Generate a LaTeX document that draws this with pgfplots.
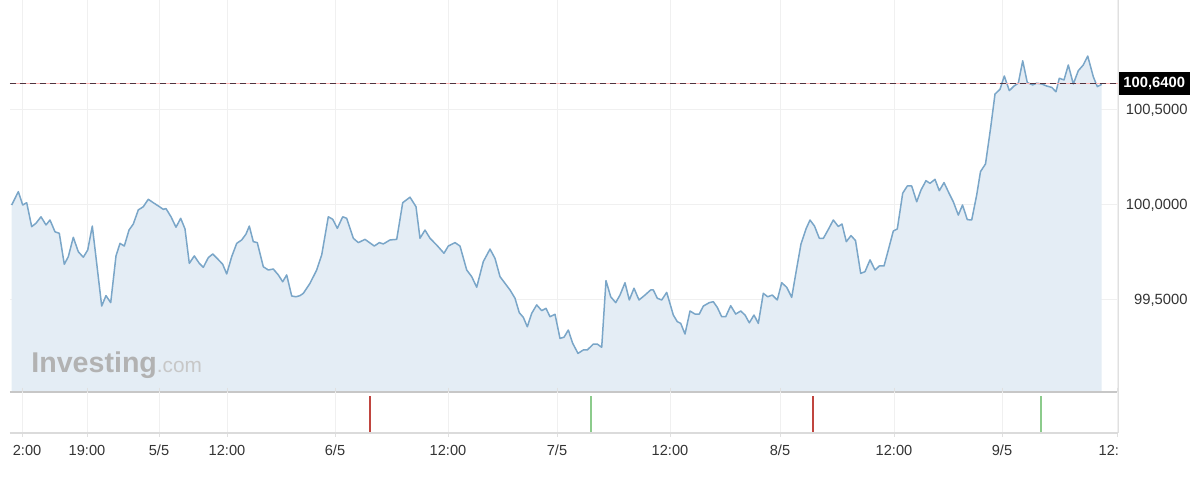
\documentclass[border=0pt]{standalone}
\usepackage{fontspec}
\setmainfont{Liberation Sans}
\usepackage{pgfplots}
\usepackage{pgfplotstable}
\pgfplotsset{compat=1.18}
\definecolor{linec}{HTML}{7AA6C8}
\definecolor{fillc}{HTML}{E4EDF5}
\definecolor{gridc}{HTML}{F0F0F0}
\definecolor{redm}{HTML}{C0453F}
\definecolor{greenm}{HTML}{8CCB8C}
\definecolor{dashc}{HTML}{4E3440}
\definecolor{labc}{HTML}{333333}

\pgfplotstableread{
x y
11.7 100.000
18.3 100.070
22.7 100.000
26.7 100.012
31.7 99.886
36 99.904
41 99.938
46 99.895
50 99.921
55 99.859
59.3 99.851
64.3 99.688
68.3 99.728
73.3 99.830
78.3 99.754
83.3 99.725
87.7 99.763
92.3 99.889
96.7 99.693
101.7 99.468
106 99.523
110.7 99.486
116 99.732
120 99.798
124.3 99.784
129 99.868
133.3 99.900
138.3 99.974
143.3 99.991
148.3 100.030
153.3 100.012
158.3 99.995
163.3 99.977
166 99.981
171 99.938
176 99.883
180.7 99.930
185 99.874
189.3 99.693
194.3 99.732
199.3 99.693
203.3 99.672
208.3 99.723
212.7 99.742
217.7 99.716
222.7 99.688
226.7 99.637
231.7 99.728
236.7 99.798
241.7 99.816
246 99.847
249.3 99.889
253.3 99.807
257.3 99.802
263.3 99.675
268.3 99.658
273.3 99.663
278.3 99.632
282.7 99.596
286.7 99.632
291.7 99.521
296 99.517
300 99.523
303.3 99.535
310 99.588
316.7 99.658
321.7 99.737
328.3 99.938
332.7 99.925
337.3 99.877
342.7 99.938
346.7 99.930
353.3 99.825
358.3 99.802
365 99.819
374.3 99.784
379.3 99.802
383.3 99.795
390 99.816
396.7 99.819
402.7 100.012
410 100.041
416 99.991
420 99.825
425 99.868
430 99.825
436.7 99.789
444 99.746
448.3 99.784
455 99.802
460 99.784
466.7 99.658
471.7 99.623
476.7 99.567
483.3 99.702
490 99.768
495 99.719
500 99.623
510 99.553
515 99.509
519.3 99.433
523.3 99.409
527.3 99.359
531.7 99.430
536.7 99.474
541.7 99.444
546 99.456
550 99.412
555 99.425
560 99.298
564 99.304
568.3 99.342
572.7 99.272
578 99.219
583.3 99.237
587.3 99.237
593.3 99.268
597.3 99.268
601.7 99.251
606 99.602
610.7 99.517
615.7 99.486
620 99.526
625 99.591
629.3 99.500
634 99.562
639 99.500
645 99.526
650.7 99.553
653.3 99.553
657.3 99.509
661.7 99.500
666.7 99.540
673.3 99.421
677.3 99.386
680.7 99.377
685 99.321
690 99.442
695 99.426
699.3 99.426
703.3 99.468
709.3 99.486
713.3 99.491
717.3 99.461
721.7 99.412
725.7 99.412
730.7 99.470
735.7 99.426
740.7 99.442
745 99.421
749.3 99.380
754 99.421
758.3 99.377
763.3 99.535
767.7 99.517
772.3 99.526
777.3 99.500
781.7 99.591
786.7 99.567
791.7 99.514
796.7 99.667
801 99.795
806 99.874
810 99.921
814.5 99.889
819.3 99.825
823.3 99.824
828.3 99.871
833.3 99.921
838.3 99.887
842 99.900
846.3 99.807
851 99.839
855.5 99.813
860.7 99.640
865 99.649
870 99.711
875 99.658
879.3 99.679
884 99.679
888.3 99.763
893.3 99.863
897.3 99.874
902.7 100.062
907.3 100.100
911.7 100.100
916.7 100.017
921 100.079
926 100.128
930 100.114
935 100.135
939.3 100.075
944 100.118
948.3 100.070
953.3 100.017
958.3 99.947
962.5 100.000
967.3 99.923
971.7 99.921
976.7 100.053
980.5 100.176
985.5 100.216
990.7 100.409
995 100.584
1000 100.609
1004.3 100.679
1009.3 100.602
1014 100.626
1018.3 100.641
1022.7 100.759
1027.3 100.644
1032.7 100.632
1036.7 100.641
1041.7 100.637
1046.7 100.626
1051.7 100.619
1056 100.596
1059.3 100.667
1064 100.658
1068.3 100.737
1073.3 100.637
1078.3 100.707
1083.3 100.737
1087.7 100.784
1093.3 100.675
1097.3 100.623
1101.7 100.635
}\pricedata

\begin{document}
\begin{tikzpicture}
\useasboundingbox (0,0) rectangle (600pt,245.5pt);
% main panel
\begin{axis}[
  at={(5pt,49.5pt)}, anchor=south west,
  scale only axis, width=554pt, height=196pt,
  xmin=10, xmax=1118, ymin=99.0158, ymax=101.0789,
  axis line style={draw=none},
  xtick={23,87,159,227,335,448,557,670,780,894,1002,1117},
  xticklabels={},
  ytick={99.5,100,100.5},
  yticklabels={{99,5000},{100,0000},{100,5000}},
  yticklabel pos=right,
  yticklabel style={anchor=east, inner sep=0pt, xshift=35pt, text=labc,
    font=\fontsize{7.4}{9}\selectfont},
  major tick length=0pt,
  tick style={draw=none},
  grid=major, major grid style={draw=gridc, line width=0.5pt},
  clip mode=individual,
]
\addplot[draw=none, fill=fillc] table[x=x,y=y]{\pricedata} \closedcycle;
\addplot[linec, line width=0.75pt, line join=round] table[x=x,y=y]{\pricedata};
\node[anchor=base west, inner sep=0pt, text=black!30, font=\bfseries\fontsize{14.3}{16}\selectfont]
  at (axis cs:31,99.117) {Investing\textcolor{black!22}{\mdseries\fontsize{10.4}{12}\selectfont.com}};
\addplot[red!30, line width=0.6pt] coordinates {(10,100.64) (1118,100.64)};
\addplot[dashc, line width=0.65pt, dash pattern=on 3pt off 2pt] coordinates {(10,100.64) (1118,100.64)};
\draw[black!22, line width=0.8pt] (rel axis cs:0,0) -- (rel axis cs:1,0);
\draw[black!12, line width=0.5pt] (rel axis cs:1,0) -- (rel axis cs:1,1);
\node[fill=black, text=white, anchor=west, inner sep=0pt, minimum width=35.5pt, minimum height=11.5pt,
  font=\bfseries\fontsize{7.4}{8}\selectfont] at (axis cs:1118.4,100.64) {100,6400};
\end{axis}
% lower panel
\begin{axis}[
  at={(5pt,29pt)}, anchor=south west,
  scale only axis, width=554pt, height=20.5pt,
  xmin=10, xmax=1118, ymin=-1, ymax=40,
  axis line style={draw=none},
  xtick={23,87,159,227,335,448,557,670,780,894,1002,1117},
  xticklabels={{\phantom{2}2:00},19:00,5/5,12:00,6/5,12:00,7/5,12:00,8/5,12:00,9/5,{12:\phantom{00}}},
  xticklabel style={inner sep=0pt, yshift=-4pt, text=labc, font=\fontsize{7.3}{9}\selectfont},
  ytick=\empty,
  tick align=outside, major tick length=2pt,
  x tick style={draw=black!12, line width=0.5pt},
  xmajorgrids, major grid style={draw=gridc, line width=0.5pt},
  clip mode=individual,
]
\addplot[ycomb, no marks, redm, line width=1pt] coordinates {(370,36) (813,36)};
\addplot[ycomb, no marks, greenm, line width=1pt] coordinates {(591,36) (1041,36)};
\draw[black!14, line width=0.6pt] (rel axis cs:0,0) -- (rel axis cs:1,0);
\draw[black!12, line width=0.5pt] (rel axis cs:1,0) -- (rel axis cs:1,1);
\end{axis}
\end{tikzpicture}
\end{document}
